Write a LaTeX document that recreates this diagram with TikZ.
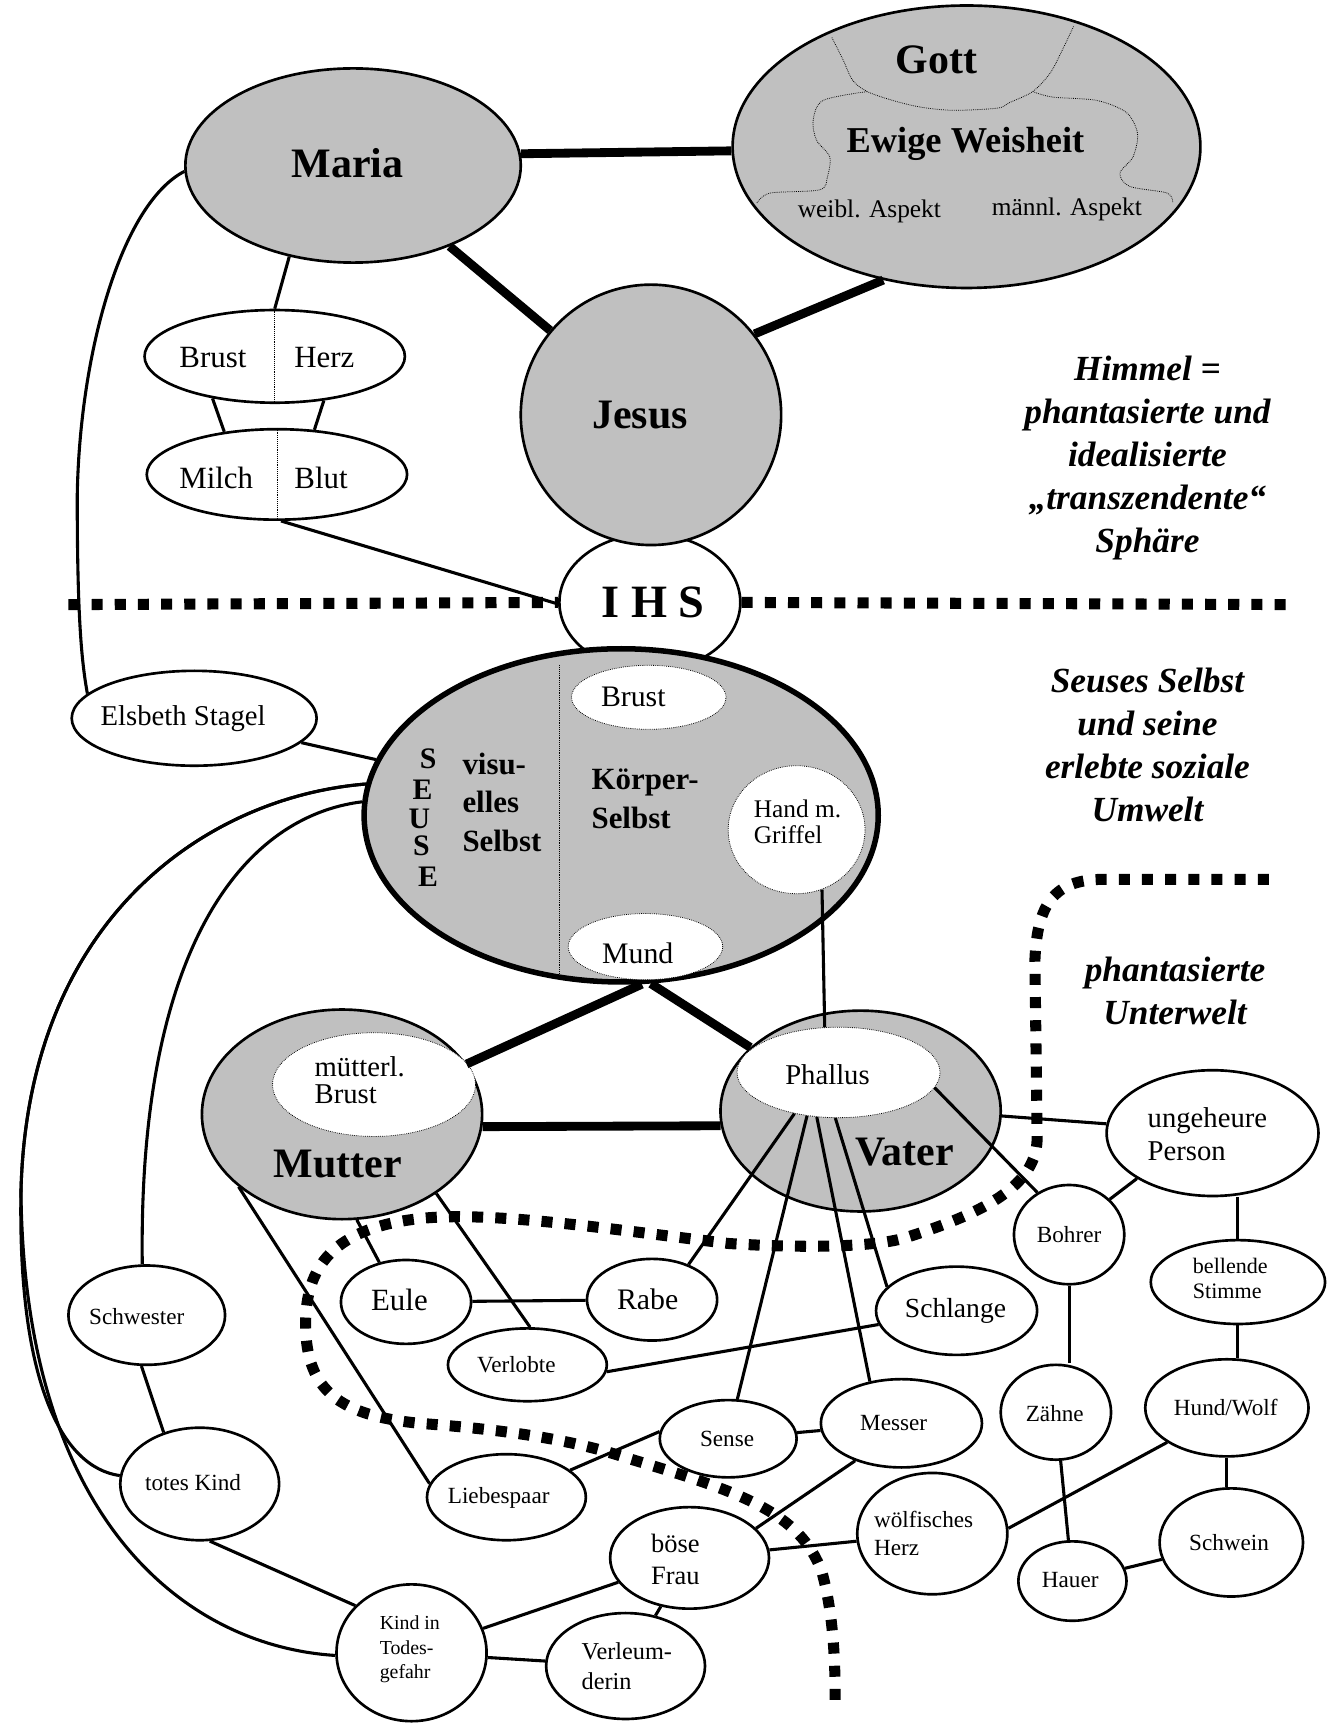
\documentclass[tikz,border=0pt]{standalone}
\usepackage{fontspec}
\setmainfont{Liberation Serif}
\usetikzlibrary{shapes.geometric}
\definecolor{fillgray}{RGB}{192,192,192}
\newcommand\myfs[2]{\fontsize{#1}{#2}\selectfont}
\begin{document}
\begin{tikzpicture}[x=1pt,y=-1pt,
  ell/.style 2 args={ellipse, draw, line width=2.4pt, fill=white, inner sep=0pt, minimum width=#1, minimum height=#2},
  inl/.style 2 args={ellipse, draw, densely dotted, line width=0.7pt, fill=white, inner sep=0pt, minimum width=#1, minimum height=#2},
  gry/.style={fill=fillgray},
  conn/.style={line width=2.8pt},
  heavy/.style={line width=8pt},
  bnd/.style={line width=10pt, dash pattern=on 10pt off 11pt},
  fine/.style={densely dotted, line width=0.7pt},
  txt/.style={inner sep=0pt},
  big/.style={txt, font=\bfseries\myfs{38}{40}},
  mid/.style={txt, font=\myfs{27}{29}},
  sml/.style={txt, font=\myfs{21}{24}},
  lbl/.style={txt, align=center, font=\bfseries\itshape\myfs{32}{39}}
]
\useasboundingbox[fill=white] (0,0) rectangle (1210,1568);

% ---------- upper sphere ----------
\node[ell={164pt}{124pt}] (ihs) at (589,546) {};
\node[ell={236pt}{236pt}, gry] (jesus) at (590,376) {};
\node[ell={304pt}{176pt}, gry] (maria) at (320,150) {};
\node[ell={424pt}{256pt}, gry] (gott) at (876,133) {};
\draw[fine] plot[smooth] coordinates {(754,34) (764,54) (773,73) (786,83) (809,91) (834,97) (864,100) (904,98) (915,93) (936,83) (952,66) (963,45) (973,24)};
\draw[fine] plot[smooth] coordinates {(686,184) (698,175) (743,172) (750,160) (752,142) (740,127) (737,109) (746,91) (786,83)};
\draw[fine] plot[smooth] coordinates {(936,83) (954,88) (994,91) (1021,102) (1031,121) (1027,142) (1015,157) (1024,169) (1058,175) (1063,184)};

\node[ell={236pt}{84pt}] (bh) at (249,323) {};
\node[ell={236pt}{82pt}] (mb) at (251,430) {};
\draw[fine] (bh.north) -- (bh.south);
\draw[fine] (mb.north) -- (mb.south);

% ---------- Seuse ----------
\node[ell={222pt}{86pt}] (elsbeth) at (176,651) {};
\node[ell={466pt}{302pt}, gry, line width=5pt] (seuse) at (563,739) {};
\draw[fine] (507,603) -- (507,885);
\node[inl={140pt}{58pt}] (sbrust) at (588,632) {};
\node[inl={124pt}{116pt}] (shand) at (722,752) {};
\node[inl={140pt}{60pt}] (smund) at (585,858) {};

% ---------- parents ----------
\node[ell={254pt}{190pt}, gry] (mutter) at (310,1010) {};
\node[inl={184pt}{94pt}] (mbrust) at (339,983) {};
\node[ell={254pt}{182pt}, gry] (vater) at (780,1007) {};
\node[inl={184pt}{82pt}] (phallus) at (760,972) {};

% ---------- lower nodes ----------
\node[ell={118pt}{76pt}] (eule) at (368,1180) {};
\node[ell={118pt}{74pt}] (rabe) at (591,1178) {};
\node[ell={144pt}{66pt}] (verlobte) at (478,1237) {};
\node[ell={146pt}{80pt}] (schlange) at (867,1188) {};
\node[ell={144pt}{78pt}] (liebespaar) at (459,1357) {};
\node[ell={124pt}{70pt}] (sense) at (660,1304) {};
\node[ell={146pt}{80pt}] (messer) at (817,1290) {};
\node[ell={144pt}{92pt}] (boese) at (625,1412) {};
\node[ell={136pt}{110pt}] (woelf) at (845,1390) {};
\node[ell={144pt}{96pt}] (verleum) at (567,1510) {};
\node[ell={136pt}{124pt}] (kind) at (373,1498) {};
\node[ell={144pt}{102pt}] (totes) at (181,1345) {};
\node[ell={142pt}{90pt}] (schwester) at (133,1192) {};
\node[ell={192pt}{114pt}] (unge) at (1099,1027) {};
\node[ell={100pt}{90pt}] (bohrer) at (969,1119) {};
\node[ell={158pt}{76pt}] (bellende) at (1122,1162) {};
\node[ell={100pt}{86pt}] (zaehne) at (957,1280) {};
\node[ell={148pt}{88pt}] (hund) at (1112,1276) {};
\node[ell={130pt}{98pt}] (schwein) at (1116,1398) {};
\node[ell={98pt}{72pt}] (hauer) at (972,1433) {};

% ---------- connectors ----------
\draw[heavy] (maria.4.5) -- (gott.181);
\draw[heavy] (maria) -- (jesus);
\draw[heavy] (jesus.38) -- (gott.238);
\draw[conn] (maria.235) -- (bh.north);
\draw[conn] (bh.214) -- (mb.141);
\draw[conn] (bh.318) -- (mb.50);
\draw[conn] (mb.275) -- (ihs.181);
\draw[conn] (maria.182) .. controls (110,185) and (72,320) .. (70,450) .. controls (70,560) and (74,600) .. (elsbeth.167);
\draw[conn] (elsbeth) -- (seuse);
\draw[conn] (seuse.173.5) .. controls (190,722) and (25,830) .. (19,1080) .. controls (16,1250) and (55,1330) .. (totes.174);
\draw[conn] (seuse.173.5) .. controls (190,722) and (25,830) .. (19,1080) .. controls (22,1380) and (170,1492) .. (kind.182);
\draw[conn] (seuse.177.8) .. controls (220,740) and (125,860) .. (schwester.95);
\draw[heavy] (seuse.277) -- (mutter.22);
\draw[heavy] (seuse.280) -- (vater.150);
\draw[heavy] (mutter.-5) -- (vater.186);
\draw[conn] (shand.293) -- (phallus.107);
\draw[conn] (mutter.278) -- (eule.124);
\draw[conn] (mutter.320) -- (verlobte.86);
\draw[conn] (mutter.215) -- (liebespaar.170);
\draw[conn] (eule) -- (rabe);
\draw[conn] (verlobte.355) -- (schlange.190);
\draw[conn] (phallus.223) -- (rabe.44);
\draw[conn] (phallus.234) -- (sense.77);
\draw[conn] (phallus.244) -- (messer.127);
\draw[conn] (phallus.266) -- (schlange.161);
\draw[conn] (phallus.351) -- (bohrer.127);
\draw[conn] (vater.358) -- (unge.175);
\draw[conn] (bohrer.41) -- (unge.211);
\draw[conn] (bellende.north) -- (bellende.north |- unge.south);
\draw[conn] (bellende.south) -- (bellende.south |- hund.north);
\draw[conn] (hund.south) -- (hund.south |- schwein.north);
\draw[conn] (bohrer.south) -- (bohrer.south |- zaehne.north);
\draw[conn] (zaehne) -- (hauer);
\draw[conn] (hauer) -- (schwein);
\draw[conn] (woelf.4) -- (hund.210);
\draw[conn] (boese) -- (woelf);
\draw[conn] (messer.219) -- (boese.24);
\draw[conn] (sense) -- (messer);
\draw[conn] (liebespaar.23) -- (sense.174);
\draw[conn] (boese) -- (verleum);
\draw[conn] (kind) -- (boese);
\draw[conn] (kind) -- (verleum);
\draw[conn] (totes.280) -- (kind.140);
\draw[conn] (schwester.264) -- (totes.125);

% ---------- boundaries ----------
\coordinate (hl) at (62,548);
\coordinate (hr) at (1175,548);
\draw[bnd] (hl) -- (ihs.west);
\draw[bnd] (ihs.east) -- (hr);
\draw[bnd] (1150,797) -- (1000,797) .. controls (955,797) and (940,820) .. (938,870) -- (940,1030)
  .. controls (941,1075) and (890,1100) .. (820,1122) .. controls (790,1131) and (720,1131) .. (660,1127)
  .. controls (560,1115) and (450,1098) .. (385,1104) .. controls (300,1112) and (277,1150) .. (277,1200)
  .. controls (277,1262) and (310,1283) .. (380,1290) .. controls (460,1296) and (520,1305) .. (570,1322)
  .. controls (670,1352) and (725,1370) .. (745,1425) .. controls (756,1465) and (757,1510) .. (757,1545);

% ---------- texts ----------
\node[big] (mariaT) at (315,148) {Maria};
\node[big] (gottT) at (849,54) {Gott};
\node[txt, font=\bfseries\myfs{33}{35}] (ewigT) at (875,130) {Ewige Weisheit};
\node[txt, font=\myfs{23}{25}] (weiblT) at (788,192) {weibl. Aspekt};
\node[txt, font=\myfs{23}{25}] (maennlT) at (967,190) {männl. Aspekt};
\node[big] (jesusT) at (580,376) {Jesus};
\node[txt, font=\bfseries\myfs{42}{44}] (ihsT) at (592,546) {I H S};
\node[txt, font=\myfs{28}{30}] (bhB) at (193,324) {Brust};
\node[txt, font=\myfs{28}{30}] (bhH) at (294,324) {Herz};
\node[txt, font=\myfs{28}{30}] (mbM) at (196,433) {Milch};
\node[txt, font=\myfs{28}{30}] (mbB) at (291,433) {Blut};
\node[txt, font=\myfs{26}{28}] (elsT) at (166,651) {Elsbeth Stagel};
\node[txt, font=\bfseries\myfs{27}{29}] (s1) at (388,688) {S};
\node[txt, font=\bfseries\myfs{27}{29}] (s2) at (383,716) {E};
\node[txt, font=\bfseries\myfs{27}{29}] (s3) at (380,742) {U};
\node[txt, font=\bfseries\myfs{27}{29}] (s4) at (382,767) {S};
\node[txt, font=\bfseries\myfs{27}{29}] (s5) at (388,795) {E};
\node[txt, anchor=west, align=left, font=\bfseries\myfs{28}{35}] (visT) at (419,727) {visu-\\elles\\Selbst};
\node[txt, anchor=west, align=left, font=\bfseries\myfs{28}{35}] (koerT) at (536,724) {Körper-\\Selbst};
\node[mid] (sbrustT) at (574,632) {Brust};
\node[txt, anchor=west, align=left, font=\myfs{23}{23}] (handT) at (683,745) {Hand m.\\Griffel};
\node[mid] (mundT) at (578,864) {Mund};
\node[txt, anchor=west, align=left, font=\myfs{26}{25}] (mbrT) at (285,979) {mütterl.\\Brust};
\node[big] (mutterT) at (306,1055) {Mutter};
\node[txt, font=\myfs{26}{28}] (phT) at (750,974) {Phallus};
\node[big] (vaterT) at (820,1044) {Vater};
\node[txt, font=\myfs{28}{30}] (euleT) at (362,1178) {Eule};
\node[mid] (rabeT) at (587,1178) {Rabe};
\node[sml] (verlT) at (468,1237) {Verlobte};
\node[txt, font=\myfs{25}{27}] (schlT) at (866,1188) {Schlange};
\node[sml] (liebT) at (452,1358) {Liebespaar};
\node[sml] (senseT) at (659,1304) {Sense};
\node[sml] (messT) at (810,1290) {Messer};
\node[txt, anchor=west, align=left, font=\myfs{24}{29}] (boeseT) at (590,1413) {böse\\Frau};
\node[txt, anchor=west, align=left, font=\myfs{21}{25}] (woelfT) at (792,1390) {wölfisches\\Herz};
\node[txt, anchor=west, align=left, font=\myfs{22}{27}] (verlmT) at (527,1510) {Verleum-\\derin};
\node[txt, anchor=west, align=left, font=\myfs{18}{22}] (kindT) at (344,1495) {Kind in\\Todes-\\gefahr};
\node[sml] (totesT) at (175,1344) {totes Kind};
\node[sml] (schwT) at (124,1193) {Schwester};
\node[txt, anchor=west, align=left, font=\myfs{26}{30}] (ungeT) at (1040,1028) {ungeheure\\Person};
\node[sml] (bohrT) at (969,1119) {Bohrer};
\node[txt, anchor=west, align=left, font=\myfs{20}{23}] (bellT) at (1081,1159) {bellende\\Stimme};
\node[sml] (zaehT) at (956,1281) {Zähne};
\node[sml] (hundT) at (1111,1276) {Hund/Wolf};
\node[sml] (schwnT) at (1114,1398) {Schwein};
\node[sml] (hauerT) at (970,1432) {Hauer};

\node[lbl] (himmel) at (1040,415) {Himmel =\\phantasierte und\\idealisierte\\„transzendente“\\Sphäre};
\node[lbl] (selbst) at (1040,675) {Seuses Selbst\\und seine\\erlebte soziale\\Umwelt};
\node[lbl] (unterw) at (1065,898) {phantasierte\\Unterwelt};
\end{tikzpicture}
\end{document}
